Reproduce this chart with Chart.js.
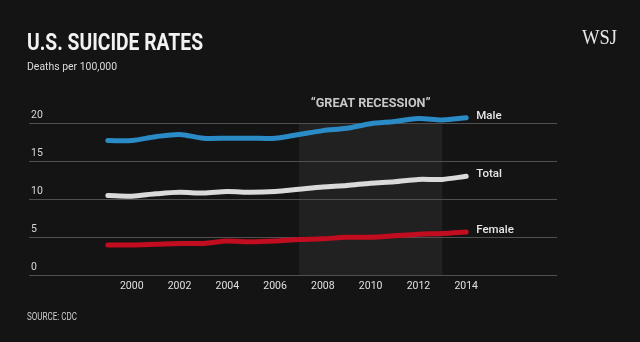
<!DOCTYPE html>
<html>
<head>
<meta charset="utf-8">
<script src="https://cdn.jsdelivr.net/npm/chart.js@4"></script>
<style>
  html, body { margin: 0; padding: 0; background: #141414; }
  #wrap { width: 640px; height: 342px; position: relative; }
</style>
</head>
<body>
<div id="wrap"><canvas id="suicideChart" width="640" height="342"></canvas></div>
<script>
// data (age-adjusted, deaths per 100,000)
const years = [1999, 2000, 2001, 2002, 2003, 2004, 2005, 2006, 2007, 2008, 2009, 2010, 2011, 2012, 2013, 2014];
const male = [17.7, 17.7, 18.2, 18.5, 18.0, 18.0, 18.0, 18.0, 18.5, 19.0, 19.3, 19.9, 20.2, 20.6, 20.4, 20.7];
const total = [10.5, 10.4, 10.7, 10.9, 10.8, 11.0, 10.9, 11.0, 11.3, 11.6, 11.8, 12.1, 12.3, 12.6, 12.6, 13.0];
const female = [4.0, 4.0, 4.1, 4.2, 4.2, 4.5, 4.4, 4.5, 4.7, 4.8, 5.0, 5.0, 5.2, 5.4, 5.5, 5.7];
const xTicks = [2000, 2002, 2004, 2006, 2008, 2010, 2012, 2014];
const yTicks = [0, 5, 10, 15, 20];
const recession = [2007, 2013];
const seriesNames = ['Male', 'Total', 'Female'];

const FONT = 'Roboto, "Open Sans", sans-serif';

// draw text, squeezed horizontally to a target width if given
function drawText(ctx, text, x, y, font, color, width, align) {
    ctx.save();
    ctx.font = font;
    ctx.fillStyle = color;
    ctx.textBaseline = 'alphabetic';
    const w = ctx.measureText(text).width;
    const sx = width ? width / w : 1;
    let left = x;
    if (align === 'center') left = x - (w * sx) / 2;
    ctx.translate(left, y);
    ctx.scale(sx, 1);
    ctx.textAlign = 'left';
    ctx.fillText(text, 0, 0);
    ctx.restore();
}

const decorations = {
    id: 'decorations',
    beforeDraw(chart) {
        const ctx = chart.ctx;
        const xs = chart.scales.x, ys = chart.scales.y;
        ctx.save();
        ctx.fillStyle = '#141414';
        ctx.fillRect(0, 0, chart.width, chart.height);
        // recession band
        const x0 = xs.getPixelForValue(recession[0]);
        const x1 = xs.getPixelForValue(recession[1]);
        ctx.fillStyle = 'rgba(255,255,255,0.06)';
        ctx.fillRect(x0, ys.getPixelForValue(20), x1 - x0, ys.getPixelForValue(0) - ys.getPixelForValue(20));
        ctx.restore();

        drawText(ctx, 'U.S. SUICIDE RATES', 27, 50, 'bold 24px ' + FONT, '#f2f2f2', 176);
        drawText(ctx, 'Deaths per 100,000', 27, 70, '11px ' + FONT, '#dcdcdc', 90);
        drawText(ctx, 'WSJ', 582, 44, '22px "Liberation Serif", "DejaVu Serif", serif', '#e8e8e8', 35);
        drawText(ctx, 'SOURCE: CDC', 27, 320, '10px ' + FONT, '#d0d0d0', 50);
        drawText(ctx, '\u201CGREAT RECESSION\u201D', (x0 + x1) / 2, 107, 'bold 13px ' + FONT, '#c8c8c8', 120, 'center');
    },
    afterDatasetsDraw(chart) {
        const ctx = chart.ctx;
        const xs = chart.scales.x, ys = chart.scales.y;
        chart.data.datasets.forEach((ds, i) => {
            const last = ds.data[ds.data.length - 1];
            const px = xs.getPixelForValue(last.x) + 10;
            const py = ys.getPixelForValue(last.y) + 1;
            drawText(ctx, seriesNames[i], px, py, '500 11.5px ' + FONT, '#e6e6e6');
        });
    }
};

function points(values) {
    return years.map((yr, i) => ({ x: yr, y: values[i] }));
}

function series(values, color) {
    return {
        data: points(values),
        borderColor: color,
        borderWidth: 5,
        pointRadius: 0,
        tension: 0.3,
        borderCapStyle: 'round',
        borderJoinStyle: 'round',
        clip: false,
        fill: false
    };
}

const ctx = document.getElementById('suicideChart').getContext('2d');
const chart = new Chart(ctx, {
    type: 'line',
    data: {
        datasets: [
            series(male, '#2a8bc6'),
            series(total, '#dadada'),
            series(female, '#c10d1f')
        ]
    },
    plugins: [decorations],
    options: {
        responsive: false,
        animation: false,
        layout: {
            padding: { left: 25, right: 83, top: 123, bottom: 44 }
        },
        plugins: {
            legend: { display: false },
            tooltip: { enabled: false }
        },
        scales: {
            x: {
                type: 'linear',
                min: 1995.7,
                max: 2017.8,
                grid: { display: false, drawTicks: false },
                border: { display: false },
                afterBuildTicks: axis => { axis.ticks = xTicks.map(v => ({ value: v })); },
                ticks: {
                    padding: 5,
                    color: '#e0e0e0',
                    maxRotation: 0,
                    autoSkip: false,
                    font: { family: FONT, size: 10.5 },
                    callback: v => String(v)
                }
            },
            y: {
                min: 0,
                max: 20,
                grid: { color: '#4f4f4f', lineWidth: 1, drawTicks: false },
                border: { display: false },
                afterBuildTicks: axis => { axis.ticks = yTicks.map(v => ({ value: v })); },
                ticks: {
                    mirror: true,
                    padding: 2,
                    labelOffset: -8,
                    color: '#d8d8d8',
                    font: { family: FONT, size: 10.5 }
                }
            }
        }
    }
});
</script>
</body>
</html>
